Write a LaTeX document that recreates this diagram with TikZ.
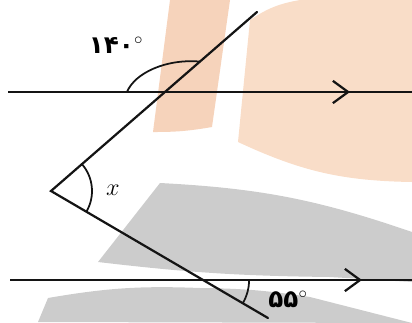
\documentclass[tikz,border=0pt]{standalone}
\usepackage{fontspec}
\usepackage{amsmath}
\usepackage{tikz}
\usetikzlibrary{arrows.meta, calc}
\newfontfamily\persianfont[Script=Arabic]{DejaVu Sans}
\definecolor{mypeach}{RGB}{246,211,187}
\definecolor{mypeachlt}{RGB}{249,221,200}
\definecolor{mygray}{RGB}{204,204,204}
\definecolor{mydark}{RGB}{20,20,20}
\tikzset{
  parline/.style={line width=1.9pt, color=mydark},
  rayline/.style={line width=1.9pt, color=mydark},
  anglearc/.style={line width=1.5pt, color=mydark},
  midarrow/.style={line width=2.3pt, color=mydark,
    -{Straight Barb[length=13pt, width=19pt, line width=1.9pt]}},
  numlabel/.style={font=\persianfont\bfseries\fontsize{21}{24}\selectfont, inner sep=0pt},
  varlabel/.style={font=\fontsize{22}{25}\selectfont, inner sep=0pt}
}

\begin{document}
\begin{tikzpicture}[x=0.03cm, y=0.03cm]
  \useasboundingbox (0,0) rectangle (412,-322);

  % Watermark (background)
  \fill[mypeach] (153,-132) -- (170,0) -- (230,0) -- (212,-127) to[bend left=5] cycle;
  \fill[mypeachlt] (238,-142) -- (250,-20) to[bend left=12] (300,0) -- (412,0)
    -- (412,-182) to[bend left=12] cycle;
  \fill[mygray] (160,-183) to[bend left=8] (412,-232) -- (412,-282) -- (330,-277)
    to[bend left=3] (98,-262) -- cycle;
  \fill[mygray] (48,-298) to[bend left=6] (200,-288) to[bend left=4] (310,-297)
    -- (412,-323) -- (38,-322) -- cycle;

  % Parallel lines
  \coordinate (L1) at (8,-92);
  \coordinate (R1) at (412,-92);
  \coordinate (L2) at (10,-280);
  \coordinate (R2) at (412,-280);
  \draw[parline] (L1) -- (R1);
  \draw[parline] (L2) -- (R2);

  % Arrow marks
  \coordinate (tip1) at (350,-92);
  \coordinate (tip2) at (362,-280);
  \draw[midarrow] (285,-92) -- (tip1);
  \draw[midarrow] (296,-280) -- (tip2);

  % Broken line
  \coordinate (V) at (51,-191);
  \coordinate (T) at (257,-12);
  \coordinate (B) at (268,-318);
  \draw[rayline, line cap=round] (T) -- (V) -- (B);

  \coordinate (P1) at (intersection of V--T and L1--R1);
  \coordinate (P2) at (intersection of V--B and L2--R2);

  % Angle arcs
  \coordinate (a1) at ($(P1)+(-38,0)$);
  \coordinate (a2) at ($(P1)!0.38!(T)$);
  \draw[anglearc] (a1) .. controls ($(a1)+(8,19)$) and ($(a2)+(-34,3)$) .. (a2);
  \draw[anglearc] (V) ++(-30.3:41) arc[start angle=-30.3, end angle=41, radius=41];
  \draw[anglearc] (P2) ++(0:46) arc[start angle=0, end angle=-30.3, radius=46];

  % Labels
  \node[numlabel] (lab140) at (116,-45) {۱۴۰$^{\circ}$};
  \node[varlabel] (labx) at (113,-190) {$x$};
  \node[numlabel] (lab55) at (288,-299) {۵۵$^{\circ}$};
\end{tikzpicture}
\end{document}
